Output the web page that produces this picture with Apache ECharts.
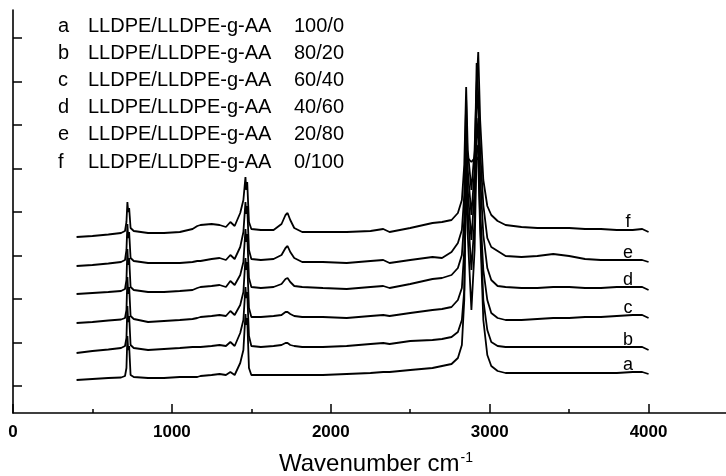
<!DOCTYPE html>
<html>
<head>
<meta charset="utf-8">
<script src="https://cdn.jsdelivr.net/npm/echarts@6/dist/echarts.min.js"></script>
<style>
html,body{margin:0;padding:0;background:#fff;}
#chart{width:726px;height:476px;}
</style>
</head>
<body>
<div id="chart"></div>
<script>
// Wavenumber nodes (cm-1) shared by all spectra
const wavenumbers = [400,500,600,680,705,714,720,725,731,740,760,850,950,1050,1130,1160,1180,1250,1300,1340,1368,1395,1430,1450,1463,1468,1474,1485,1500,1560,1640,1690,1715,1728,1745,1770,1820,1950,2100,2250,2330,2370,2500,2640,2700,2760,2800,2825,2840,2852,2862,2885,2905,2918,2928,2940,2960,2985,3010,3050,3100,3200,3300,3400,3500,3600,3700,3800,3900,3960,4000];

// Stacked absorbance (arbitrary units, offset as in the figure)
const specA = [0.33,0.34,0.35,0.355,0.37,0.45,0.77,0.63,0.67,0.38,0.36,0.35,0.35,0.36,0.36,0.36,0.37,0.38,0.39,0.38,0.41,0.38,0.50,0.63,0.99,0.88,0.95,0.45,0.38,0.38,0.38,0.38,0.38,0.38,0.38,0.38,0.38,0.38,0.39,0.40,0.41,0.41,0.43,0.45,0.47,0.49,0.55,0.68,1.13,2.48,2.55,2.51,2.55,2.56,2.53,1.83,0.93,0.58,0.47,0.42,0.40,0.40,0.40,0.40,0.40,0.40,0.40,0.40,0.41,0.41,0.39];
const specB = [0.60,0.62,0.635,0.65,0.67,0.75,1.07,0.91,0.97,0.68,0.65,0.63,0.64,0.65,0.66,0.66,0.66,0.67,0.68,0.67,0.71,0.67,0.80,0.93,1.26,1.15,1.21,0.77,0.67,0.66,0.67,0.68,0.70,0.70,0.68,0.67,0.66,0.66,0.67,0.69,0.70,0.69,0.72,0.73,0.74,0.76,0.81,0.93,1.23,2.45,1.78,1.03,1.63,2.63,2.68,1.93,1.13,0.83,0.71,0.67,0.66,0.66,0.66,0.66,0.66,0.66,0.66,0.66,0.66,0.66,0.63];
const specC = [0.90,0.91,0.925,0.935,0.95,1.03,1.36,1.19,1.26,0.97,0.94,0.91,0.92,0.93,0.94,0.95,0.96,0.97,0.98,0.97,1.02,0.98,1.08,1.21,1.55,1.43,1.51,1.05,0.96,0.96,0.97,0.98,1.01,1.01,0.99,0.97,0.96,0.96,0.95,0.97,0.98,0.97,1.00,1.03,1.04,1.06,1.13,1.25,1.63,2.75,2.03,1.43,1.93,2.95,2.73,2.03,1.43,1.13,1.00,0.95,0.93,0.93,0.94,0.95,0.95,0.96,0.96,0.97,0.98,0.98,0.95];
const specD = [1.19,1.20,1.21,1.22,1.24,1.33,1.64,1.48,1.55,1.26,1.23,1.21,1.21,1.22,1.23,1.25,1.26,1.27,1.28,1.26,1.32,1.28,1.38,1.51,1.84,1.71,1.79,1.35,1.26,1.25,1.26,1.29,1.34,1.35,1.31,1.27,1.26,1.25,1.24,1.26,1.27,1.25,1.29,1.34,1.35,1.38,1.45,1.58,1.93,2.95,2.23,1.73,2.23,3.23,3.03,2.38,1.78,1.45,1.33,1.27,1.26,1.25,1.25,1.26,1.26,1.25,1.25,1.26,1.26,1.26,1.23];
const specE = [1.47,1.48,1.495,1.51,1.53,1.63,1.89,1.75,1.81,1.55,1.52,1.50,1.50,1.50,1.51,1.52,1.52,1.54,1.55,1.53,1.58,1.54,1.66,1.81,2.11,1.99,2.07,1.63,1.54,1.53,1.54,1.58,1.65,1.67,1.61,1.55,1.51,1.51,1.50,1.52,1.53,1.50,1.53,1.56,1.55,1.61,1.70,1.83,2.18,3.13,2.43,1.98,2.43,3.50,3.18,2.63,2.08,1.75,1.66,1.62,1.57,1.56,1.57,1.59,1.57,1.54,1.53,1.53,1.53,1.53,1.51];
const specF = [1.76,1.77,1.785,1.80,1.82,1.91,2.11,2.01,2.05,1.85,1.82,1.80,1.80,1.81,1.84,1.87,1.88,1.89,1.88,1.86,1.91,1.87,2.00,2.13,2.36,2.23,2.31,1.91,1.84,1.83,1.83,1.89,1.98,2.00,1.93,1.85,1.81,1.81,1.81,1.82,1.84,1.81,1.85,1.90,1.91,1.93,2.00,2.13,2.48,3.26,2.63,2.23,2.63,3.28,3.61,2.93,2.33,2.07,1.98,1.92,1.88,1.86,1.85,1.85,1.85,1.84,1.84,1.83,1.83,1.84,1.81];

const curveLetters = ['a','b','c','d','e','f'];
const labelWavenumber = 3870;
const labelLevels = [0.41,0.66,0.98,1.26,1.53,1.84];

const legendLetters = ['a','b','c','d','e','f'];
const legendNames = ['LLDPE/LLDPE-g-AA','LLDPE/LLDPE-g-AA','LLDPE/LLDPE-g-AA','LLDPE/LLDPE-g-AA','LLDPE/LLDPE-g-AA','LLDPE/LLDPE-g-AA'];
const legendRatios = ['100/0','80/20','60/40','40/60','20/80','0/100'];

const xMax = 4520;
const xTicksMajor = 1000;
const xTicksMinor = 500;
const yTickValues = [0.27,0.705,1.14,1.575,2.01,2.445,2.88,3.315,3.75];

const spectra = [specA, specB, specC, specD, specE, specF];

const FONT = 'Liberation Sans, Arial, sans-serif';
const chart = echarts.init(document.getElementById('chart'), null, {renderer:'canvas'});

const series = spectra.map((vals, i) => ({
  type: 'line',
  xAxisIndex: 0, yAxisIndex: 0,
  data: wavenumbers.map((w, k) => [w, vals[k]]),
  showSymbol: false,
  symbol: 'none',
  smooth: false,
  lineStyle: {color: '#000', width: 1.8},
  silent: true,
  markPoint: {
    symbol: 'circle', symbolSize: 0,
    label: {show: true, position: 'top', distance: -2, formatter: curveLetters[i],
            color: '#000', fontSize: 18, fontFamily: FONT},
    data: [{coord: [labelWavenumber, labelLevels[i]]}]
  }
}));

const graphics = [];
legendLetters.forEach((l, i) => {
  const y = 27 + 27.2 * i;
  graphics.push({type:'text', left: 58, top: y - 11, style:{text: l, font: '20px ' + FONT, fill:'#000'}});
  graphics.push({type:'text', left: 88, top: y - 11, style:{text: legendNames[i], font: '20px ' + FONT, fill:'#000'}});
  graphics.push({type:'text', left: 294, top: y - 11, style:{text: legendRatios[i], font: '20px ' + FONT, fill:'#000'}});
});
graphics.push({
  type: 'text', left: 279, top: 451,
  style: {
    rich: {
      m: {fontSize: 24, fontFamily: FONT, fill: '#000', lineHeight: 27},
      s: {fontSize: 14, fontFamily: FONT, fill: '#000', lineHeight: 27, verticalAlign: 'top', padding:[0,0,12,1]}
    },
    text: '{m|Wavenumber cm}{s|-1}'
  }
});

const gridBox = {left: 13, top: 10, width: 718.2, height: 403, containLabel: false, outerBoundsMode: 'none'};

const option = {
  animation: false,
  backgroundColor: '#fff',
  grid: [Object.assign({}, gridBox), Object.assign({}, gridBox)],
  xAxis: [
    {
      type: 'value', gridIndex: 0, min: 0, max: xMax, interval: xTicksMajor,
      axisLine: {show: true, onZero: false, lineStyle: {color: '#000', width: 1.6}},
      axisTick: {show: true, inside: true, length: 9, lineStyle: {color: '#000', width: 1.5}},
      axisLabel: {show: true, margin: 11, color: '#000', fontSize: 17, fontWeight: 'bold', fontFamily: FONT,
        formatter: v => (v % 1000 === 0 && v <= 4000) ? String(v) : ''},
      splitLine: {show: false}
    },
    {
      type: 'value', gridIndex: 1, min: 0, max: xMax, interval: xTicksMinor,
      axisLine: {show: false, onZero: false},
      axisTick: {show: true, inside: true, length: 4, lineStyle: {color: '#000', width: 1.5}},
      axisLabel: {show: false},
      splitLine: {show: false}
    }
  ],
  yAxis: [
    {
      type: 'value', gridIndex: 0, min: 0, max: 4.03,
      axisLine: {show: true, onZero: false, lineStyle: {color: '#000', width: 1.6}},
      axisTick: {show: true, inside: true, length: 9, customValues: yTickValues, lineStyle: {color: '#000', width: 1.5}},
      axisLabel: {show: false},
      splitLine: {show: false}
    },
    {
      type: 'value', gridIndex: 1, min: 0, max: 4.03, show: false
    }
  ],
  graphic: graphics,
  series: series
};
chart.setOption(option);
</script>
</body>
</html>
